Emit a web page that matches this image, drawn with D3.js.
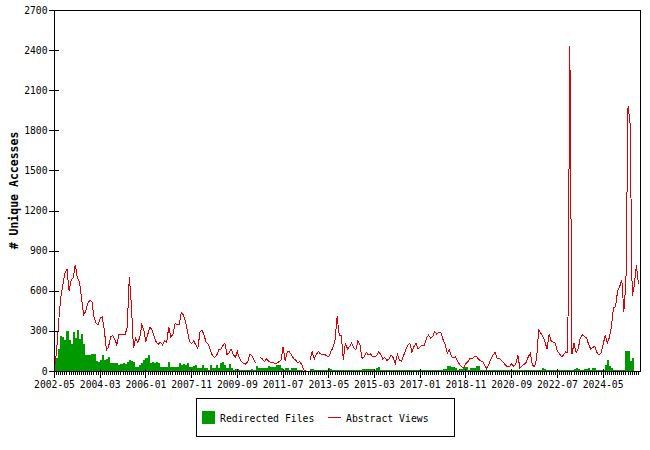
<!DOCTYPE html>
<html>
<head>
<meta charset="utf-8">
<script src="https://cdn.jsdelivr.net/npm/d3@7"></script>
<style>
  body { margin: 0; background: #fff; }
  svg { display: block; }
  text { font-family: "DejaVu Sans Mono", "Liberation Mono", monospace; }
</style>
</head>
<body>
<div id="chart"></div>
<script>
// monthly series, 2002-05 .. 2025-11
const abstractViews = [
  20, 145, 370, 545, 645, 730, 765, 600, 680, 695, 795, 695, 670, 545, 420, 445, 505, 530, 520, 405,
  355, 345, 395, 405, 305, 155, 180, 255, 265, 240, 195, 270, 275, 275, 270, 330, 705, 495, 170, 245,
  215, 245, 345, 305, 220, 280, 330, 305, 255, 215, 200, 215, 195, 225, 215, 330, 255, 275, 355, 345,
  345, 440, 420, 370, 295, 220, 205, 225, 195, 170, 290, 308, 265, 215, 200, 158, 115, 100, 115, 158,
  158, 190, 208, 125, 133, 163, 125, 100, 145, 95, 70, 57, 52, 70, 125, 115, 82, 57, null, 102,
  90, 70, 90, 75, 62, 65, 55, 57, 70, 82, 180, 75, 145, 145, 120, 95, 82, 62, 70, 50,
  8, 0, null, 82, 145, 90, 125, 145, 128, 125, 125, 112, 107, 145, 175, 233, 408, 270, 265, 85,
  208, 165, 183, 208, 175, 158, 225, 195, 95, 107, 140, 120, 130, 110, 107, 115, 145, 125, 90, 100,
  80, 90, 120, 100, 57, 125, 82, 75, 115, 158, 190, 208, 140, 183, 208, 165, 183, 190, 190, 245,
  270, 245, 258, 295, 275, 290, 283, 233, 200, 133, 158, 107, 100, 107, 75, 45, 30, 25, 57, 70,
  95, 90, 107, 110, 90, 75, 70, 45, 15, 50, 90, 120, 138, 95, 95, 82, 65, 45, 32, 32,
  55, 32, 57, 115, 20, 40, 50, 65, 107, 133, 45, 32, 90, 308, 283, 258, 220, 165, 275, 225,
  215, 208, 150, 130, 107, 120, 145, 135, 2430, 125, 208, 138, 165, 245, 270, 258, 250, 200, 165, 175,
  185, 140, 120, 133, 195, 270, 208, 250, 333, 470, 483, 600, 633, 680, 445, 670, 1980, 1850, 560, 640,
  790, 650
]

const redirectedFiles = [
  60, 95, 165, 260, 255, 235, 300, 230, 200, 290, 250, 305, 240, 280, 200, 120, 120, 120, 125, 130,
  75, 70, 80, 120, 82, 90, 107, 62, 62, 60, 57, 45, 52, 57, 52, 65, 82, 75, 65, 32,
  32, 45, 57, 82, 95, 120, 57, 65, 57, 65, 57, 32, 32, 32, 32, 65, 32, 32, 32, 32,
  57, 45, 50, 45, 57, 32, 32, 40, 45, 25, 25, 45, 25, 25, 10, 45, 25, 25, 45, 25,
  57, 65, 45, 25, 50, 25, 10, 15, 15, 8, 8, 8, 8, 8, 8, 15, 8, 38, 25, 25,
  25, 25, 20, 38, 30, 30, 30, 45, 45, 20, 8, 20, 25, 8, 20, 25, 25, 8, 8, 8,
  0, 0, 0, 15, 12, 10, 10, 10, 10, 10, 10, 10, 20, 12, 10, 10, 10, 10, 10, 10,
  10, 10, 10, 10, 10, 10, 10, 10, 15, 15, 15, 15, 15, 15, 10, 20, 33, 10, 10, 10,
  10, 10, 10, 10, 10, 10, 10, 10, 10, 10, 10, 10, 10, 10, 10, 10, 10, 10, 10, 10,
  10, 10, 10, 10, 10, 10, 10, 15, 15, 40, 40, 32, 32, 25, 10, 15, 15, 32, 32, 10,
  20, 20, 20, 37, 37, 10, 10, 10, 10, 10, 10, 10, 10, 10, 10, 10, 10, 10, 10, 10,
  10, 10, 10, 10, 10, 10, 10, 10, 10, 10, 10, 10, 10, 10, 10, 20, 15, 10, 10, 10,
  10, 10, 10, 10, 10, 10, 10, 10, 10, 10, 18, 25, 18, 10, 10, 15, 15, 20, 10, 25,
  25, 10, 10, 10, 10, 45, 82, 40, 25, 10, 10, 10, 10, 10, 10, 150, 150, 72, 95
].slice(0, abstractViews.length)

const xTickMonths = [0, 22, 44, 66, 88, 110, 132, 154, 176, 198, 220, 242, 264]
const xTickLabels = ['2002-05', '2004-03', '2006-01', '2007-11', '2009-09', '2011-07', '2013-05',
  '2015-03', '2017-01', '2018-11', '2020-09', '2022-07', '2024-05']
const yTicks = [0, 300, 600, 900, 1200, 1500, 1800, 2100, 2400, 2700]

const red = '#dd0000'
const green = '#009900'

const W = 650, H = 450
const plot = { left: 54, top: 10, right: 640, bottom: 371 }
const N = abstractViews.length

const svg = d3.select('#chart').append('svg')
  .attr('width', W)
  .attr('height', H)

const x = d3.scaleLinear().domain([0, N]).range([plot.left, plot.right])
const y = d3.scaleLinear().domain([0, 2700]).range([plot.bottom, plot.top])

// bars
svg.append('g')
  .selectAll('rect')
  .data(redirectedFiles)
  .join('rect')
  .attr('x', (d, i) => x(i))
  .attr('width', (d, i) => x(i + 1) - x(i))
  .attr('y', d => y(d))
  .attr('height', d => y(0) - y(d))
  .attr('fill', green)
  .attr('shape-rendering', 'crispEdges')

// line
const line = d3.line()
  .defined(d => d != null)
  .x((d, i) => x(i) + 0.5)
  .y(d => y(d))

svg.append('path')
  .datum(abstractViews)
  .attr('d', line)
  .attr('fill', 'none')
  .attr('stroke', red)
  .attr('stroke-width', 1)
  .attr('shape-rendering', 'crispEdges')

// frame
svg.append('rect')
  .attr('x', plot.left + 0.5)
  .attr('y', plot.top + 0.5)
  .attr('width', plot.right - plot.left)
  .attr('height', plot.bottom - plot.top)
  .attr('fill', 'none')
  .attr('stroke', '#000')
  .attr('shape-rendering', 'crispEdges')

// y axis
const yAxis = svg.append('g')
  .attr('transform', `translate(${plot.left + 0.5},0)`)
  .call(d3.axisLeft(y).tickValues(yTicks).tickSize(6).tickPadding(1)
    .tickFormat(d3.format('d')).tickSizeOuter(0))
yAxis.select('.domain').remove()
yAxis.selectAll('.tick line').attr('x1', 4).attr('stroke', '#000').attr('shape-rendering', 'crispEdges')
yAxis.selectAll('.tick text')
  .attr('font-family', '"DejaVu Sans Mono", monospace')
  .attr('font-size', '9.7px')
  .attr('fill', '#000')

// x axis: minor ticks every month
const xMinor = svg.append('g')
  .attr('transform', `translate(0,${plot.bottom + 0.5})`)
  .call(d3.axisBottom(x).tickValues(d3.range(0, N)).tickSize(3).tickFormat('').tickSizeOuter(0))
xMinor.select('.domain').remove()
xMinor.selectAll('.tick line').attr('stroke', '#000').attr('shape-rendering', 'crispEdges')

// x axis: major labelled ticks
const xAxis = svg.append('g')
  .attr('transform', `translate(0,${plot.bottom + 0.5})`)
  .call(d3.axisBottom(x).tickValues(xTickMonths).tickSize(6).tickPadding(4)
    .tickFormat((d, i) => xTickLabels[i]).tickSizeOuter(0))
xAxis.select('.domain').remove()
xAxis.selectAll('.tick line').attr('y1', -3).attr('stroke', '#000').attr('shape-rendering', 'crispEdges')
xAxis.selectAll('.tick text')
  .attr('font-family', '"DejaVu Sans Mono", monospace')
  .attr('font-size', '9.7px')
  .attr('fill', '#000')

// y title
svg.append('text')
  .attr('transform', `translate(18,${(plot.top + plot.bottom) / 2}) rotate(-90)`)
  .attr('text-anchor', 'middle')
  .attr('font-size', '11.5px')
  .attr('font-weight', 'bold')
  .text('# Unique Accesses')

// legend
const legend = svg.append('g')
legend.append('rect')
  .attr('x', 196.5).attr('y', 398.5).attr('width', 258).attr('height', 38)
  .attr('fill', '#fff').attr('stroke', '#000').attr('shape-rendering', 'crispEdges')
legend.append('rect')
  .attr('x', 202).attr('y', 411).attr('width', 13).attr('height', 13)
  .attr('fill', green)
legend.append('text')
  .attr('x', 220).attr('y', 421.5)
  .attr('font-size', '9.8px')
  .text('Redirected Files')
legend.append('line')
  .attr('x1', 328).attr('x2', 341).attr('y1', 417.5).attr('y2', 417.5)
  .attr('stroke', red)
legend.append('text')
  .attr('x', 346).attr('y', 421.5)
  .attr('font-size', '9.8px')
  .text('Abstract Views')
</script>
</body>
</html>
